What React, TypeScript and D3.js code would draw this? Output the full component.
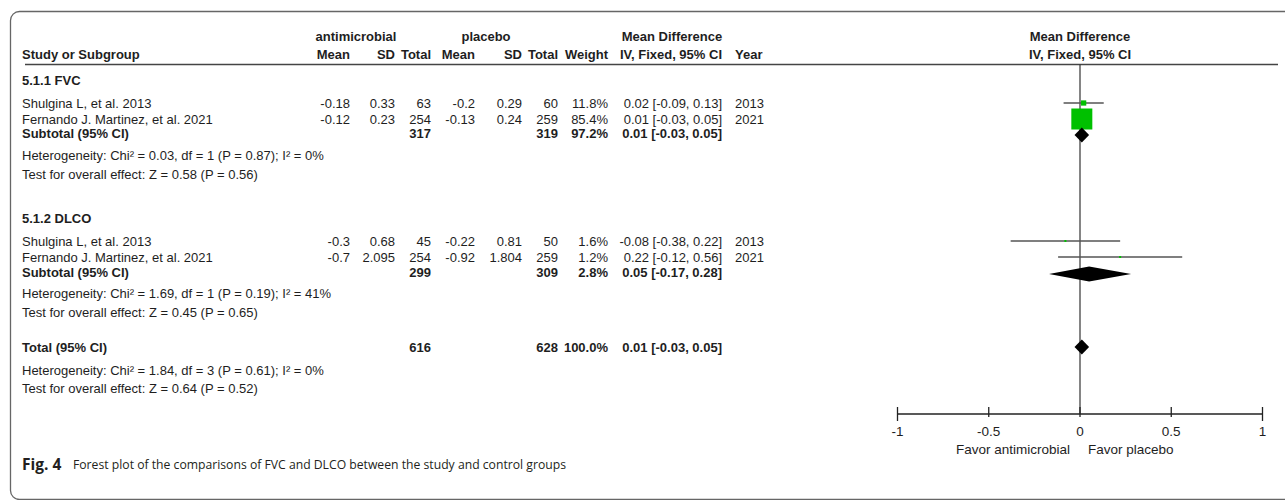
import React from "react";
import * as d3 from "d3";

// ---------- data ----------
const subgroupLabels = ["5.1.1 FVC", "5.1.2 DLCO"];
const studyNames = [
  "Shulgina L, et al. 2013",
  "Fernando J. Martinez, et al. 2021",
  "Shulgina L, et al. 2013",
  "Fernando J. Martinez, et al. 2021",
];
const studyGroup = [0, 0, 1, 1];
const expMean = ["-0.18", "-0.12", "-0.3", "-0.7"];
const expSD = ["0.33", "0.23", "0.68", "2.095"];
const expTotal = [63, 254, 45, 254];
const ctrlMean = ["-0.2", "-0.13", "-0.22", "-0.92"];
const ctrlSD = ["0.29", "0.24", "0.81", "1.804"];
const ctrlTotal = [60, 259, 50, 259];
const weights = [11.8, 85.4, 1.6, 1.2];
const md = [0.02, 0.01, -0.08, 0.22];
const ciLow = [-0.09, -0.03, -0.38, -0.12];
const ciHigh = [0.13, 0.05, 0.22, 0.56];
const years = [2013, 2021, 2013, 2021];

const subExpTotal = [317, 299];
const subCtrlTotal = [319, 309];
const subWeight = [97.2, 2.8];
const subMd = [0.01, 0.05];
const subLow = [-0.03, -0.17];
const subHigh = [0.05, 0.28];
const subHet = [
  "Heterogeneity: Chi\u00b2 = 0.03, df = 1 (P = 0.87); I\u00b2 = 0%",
  "Heterogeneity: Chi\u00b2 = 1.69, df = 1 (P = 0.19); I\u00b2 = 41%",
];
const subTest = [
  "Test for overall effect: Z = 0.58 (P = 0.56)",
  "Test for overall effect: Z = 0.45 (P = 0.65)",
];

const totalExp = 616;
const totalCtrl = 628;
const totalWeight = 100.0;
const totalMd = 0.01;
const totalLow = -0.03;
const totalHigh = 0.05;
const totalHet = "Heterogeneity: Chi\u00b2 = 1.84, df = 3 (P = 0.61); I\u00b2 = 0%";
const totalTest = "Test for overall effect: Z = 0.64 (P = 0.52)";

const tickValues = [-1, -0.5, 0, 0.5, 1];
const tickLabels = ["-1", "-0.5", "0", "0.5", "1"];
const favorLeft = "Favor antimicrobial";
const favorRight = "Favor placebo";
const captionBold = "Fig. 4";
const captionText = "Forest plot of the comparisons of FVC and DLCO between the study and control groups";

// ---------- layout ----------
const W = 1285;
const H = 500;
const FONT = "Arial, 'Liberation Sans', sans-serif";
const FS = 13;
const TXT = "#1e1e1e";

const col = {
  name: 22,
  m1: 350,
  sd1: 395,
  t1: 431,
  m2: 475,
  sd2: 522,
  t2: 558,
  w: 608,
  ci: 722,
  year: 735,
};

const rowY = {
  hdr1: 36,
  hdr2: 54,
  line: 64.5,
  groups: [
    { label: 80, studies: [103, 119], sub: 133, het: 155, test: 174 },
    { label: 218, studies: [241, 257], sub: 272, het: 293, test: 312 },
  ],
  total: 347,
  totHet: 370,
  totTest: 388,
  axis: 414,
  tickLab: 431,
  favor: 449,
  caption: 464,
};

const f2 = (v: number) => v.toFixed(2);
const ciText = (m: number, l: number, h: number) => `${f2(m)} [${f2(l)}, ${f2(h)}]`;

export default function App() {
  const x = d3.scaleLinear().domain([-1, 1]).range([897.5, 1262.5]);
  const size = d3.scalePow().exponent(0.7).domain([0, 85.4]).range([0, 21]);
  const diamondH = 15;

  const T = (props: any) => (
    <text
      fontFamily={FONT}
      fontSize={FS}
      fill={TXT}
      dominantBaseline="central"
      {...props}
    />
  );

  const diamond = (m: number, l: number, h: number, y: number) => {
    const pts: [number, number][] = [
      [x(l), y],
      [x(m), y - diamondH / 2],
      [x(h), y],
      [x(m), y + diamondH / 2],
    ];
    return <path d={(d3.line()(pts) as string) + "Z"} fill="#000" />;
  };

  const studyRows: any[] = [];
  studyNames.forEach((name, i) => {
    const g = studyGroup[i];
    const idx = studyGroup.slice(0, i).filter((v) => v === g).length;
    const y = rowY.groups[g].studies[idx];
    const s = Math.max(size(weights[i]), 2);
    studyRows.push(
      <g key={"s" + i}>
        <T x={col.name} y={y}>{name}</T>
        <T x={col.m1} y={y} textAnchor="end">{expMean[i]}</T>
        <T x={col.sd1} y={y} textAnchor="end">{expSD[i]}</T>
        <T x={col.t1} y={y} textAnchor="end">{expTotal[i]}</T>
        <T x={col.m2} y={y} textAnchor="end">{ctrlMean[i]}</T>
        <T x={col.sd2} y={y} textAnchor="end">{ctrlSD[i]}</T>
        <T x={col.t2} y={y} textAnchor="end">{ctrlTotal[i]}</T>
        <T x={col.w} y={y} textAnchor="end">{weights[i].toFixed(1) + "%"}</T>
        <T x={col.ci} y={y} textAnchor="end">{ciText(md[i], ciLow[i], ciHigh[i])}</T>
        <T x={col.year} y={y}>{years[i]}</T>
        <line x1={x(ciLow[i])} x2={x(ciHigh[i])} y1={y} y2={y} stroke="#555" strokeWidth={1.3} />
        <rect x={x(md[i]) - s / 2} y={y - s / 2} width={s} height={s} fill="#00c000" />
      </g>
    );
  });

  const groupRows = subgroupLabels.map((lab, g) => {
    const r = rowY.groups[g];
    return (
      <g key={"g" + g}>
        <T x={col.name} y={r.label} fontWeight="bold">{lab}</T>
        <T x={col.name} y={r.sub} fontWeight="bold">Subtotal (95% CI)</T>
        <T x={col.t1} y={r.sub} textAnchor="end" fontWeight="bold">{subExpTotal[g]}</T>
        <T x={col.t2} y={r.sub} textAnchor="end" fontWeight="bold">{subCtrlTotal[g]}</T>
        <T x={col.w} y={r.sub} textAnchor="end" fontWeight="bold">{subWeight[g].toFixed(1) + "%"}</T>
        <T x={col.ci} y={r.sub} textAnchor="end" fontWeight="bold">{ciText(subMd[g], subLow[g], subHigh[g])}</T>
        <T x={col.name} y={r.het}>{subHet[g]}</T>
        <T x={col.name} y={r.test}>{subTest[g]}</T>
        {diamond(subMd[g], subLow[g], subHigh[g], r.sub + 2)}
      </g>
    );
  });

  const hb = { fontWeight: "bold" };

  return (
    <svg
      width={W}
      height={H}
      style={{ position: "absolute", left: 0, top: 0, background: "#fff" }}
    >
      <rect x={0} y={0} width={W} height={H} fill="#fff" />
      <rect x={10.5} y={11.5} width={1300} height={488} rx={9} fill="none" stroke="#666" strokeWidth={1.3} />

      {/* headers */}
      <T x={356} y={rowY.hdr1} textAnchor="middle" {...hb}>antimicrobial</T>
      <T x={486} y={rowY.hdr1} textAnchor="middle" {...hb}>placebo</T>
      <T x={672} y={rowY.hdr1} textAnchor="middle" {...hb}>Mean Difference</T>
      <T x={x(0)} y={rowY.hdr1} textAnchor="middle" {...hb}>Mean Difference</T>

      <T x={col.name} y={rowY.hdr2} {...hb}>Study or Subgroup</T>
      <T x={col.m1} y={rowY.hdr2} textAnchor="end" {...hb}>Mean</T>
      <T x={col.sd1} y={rowY.hdr2} textAnchor="end" {...hb}>SD</T>
      <T x={col.t1} y={rowY.hdr2} textAnchor="end" {...hb}>Total</T>
      <T x={col.m2} y={rowY.hdr2} textAnchor="end" {...hb}>Mean</T>
      <T x={col.sd2} y={rowY.hdr2} textAnchor="end" {...hb}>SD</T>
      <T x={col.t2} y={rowY.hdr2} textAnchor="end" {...hb}>Total</T>
      <T x={col.w} y={rowY.hdr2} textAnchor="end" {...hb}>Weight</T>
      <T x={col.ci} y={rowY.hdr2} textAnchor="end" {...hb}>IV, Fixed, 95% CI</T>
      <T x={col.year} y={rowY.hdr2} {...hb}>Year</T>
      <T x={x(0)} y={rowY.hdr2} textAnchor="middle" {...hb}>IV, Fixed, 95% CI</T>
      <line x1={25} x2={1278} y1={rowY.line} y2={rowY.line} stroke="#444" strokeWidth={1.4} />

      {/* zero line */}
      <line x1={x(0)} x2={x(0)} y1={rowY.line} y2={rowY.axis} stroke="#333" strokeWidth={1.2} />

      {studyRows}
      {groupRows}

      {/* total */}
      <T x={col.name} y={rowY.total} {...hb}>Total (95% CI)</T>
      <T x={col.t1} y={rowY.total} textAnchor="end" {...hb}>{totalExp}</T>
      <T x={col.t2} y={rowY.total} textAnchor="end" {...hb}>{totalCtrl}</T>
      <T x={col.w} y={rowY.total} textAnchor="end" {...hb}>{totalWeight.toFixed(1) + "%"}</T>
      <T x={col.ci} y={rowY.total} textAnchor="end" {...hb}>{ciText(totalMd, totalLow, totalHigh)}</T>
      <T x={col.name} y={rowY.totHet}>{totalHet}</T>
      <T x={col.name} y={rowY.totTest}>{totalTest}</T>
      {diamond(totalMd, totalLow, totalHigh, rowY.total)}

      {/* axis */}
      <line x1={x(-1)} x2={x(1)} y1={rowY.axis} y2={rowY.axis} stroke="#222" strokeWidth={1.3} />
      {tickValues.map((v, i) => (
        <g key={"t" + i}>
          <line
            x1={x(v)}
            x2={x(v)}
            y1={rowY.axis - 7}
            y2={rowY.axis + (Math.abs(v) === 1 ? 7 : 3)}
            stroke="#222"
            strokeWidth={1.3}
          />
          <T x={x(v)} y={rowY.tickLab} textAnchor="middle" fontSize={13.5}>{tickLabels[i]}</T>
        </g>
      ))}
      <T x={x(0) - 10} y={rowY.favor} textAnchor="end" fontSize={13.5}>{favorLeft}</T>
      <T x={x(0) + 8} y={rowY.favor} fontSize={13.5}>{favorRight}</T>

      {/* caption */}
      <text x={22} y={rowY.caption} dominantBaseline="central" fontFamily="'Open Sans', 'Noto Sans', sans-serif" fontSize={15.5} fontWeight="bold" fill="#231f20">
        {captionBold}
      </text>
      <text x={73} y={rowY.caption} dominantBaseline="central" fontFamily="'Open Sans', 'Noto Sans', sans-serif" fontSize={12.2} fill="#231f20">
        {captionText}
      </text>
    </svg>
  );
}
